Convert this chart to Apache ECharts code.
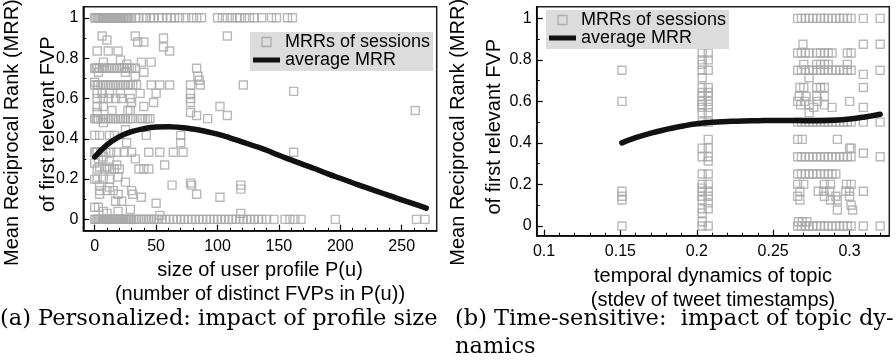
<!DOCTYPE html>
<html><head><meta charset="utf-8">
<script src="https://cdn.jsdelivr.net/npm/echarts@6/dist/echarts.min.js"></script>
<style>html,body{margin:0;padding:0;background:#fff}#c{width:896px;height:363px}</style>
</head><body><div id="c"></div>
<script>
// ---- tick labels ----
const xTicksA = [0, 50, 100, 150, 200, 250];
const xTicksB = [0.1, 0.15, 0.2, 0.25, 0.3];
const yTicks = [0, 0.2, 0.4, 0.6, 0.8, 1];

// ---- average MRR curves ----
const avgA = [[0,0.31],[10,0.37],[20,0.41],[30,0.435],[40,0.45],[50,0.458],[60,0.46],[70,0.456],[80,0.448],[90,0.437],[100,0.423],[110,0.405],[120,0.385],[130,0.364],[140,0.343],[150,0.318],[160,0.295],[170,0.272],[180,0.25],[190,0.226],[200,0.204],[210,0.182],[220,0.16],[230,0.139],[240,0.118],[250,0.097],[260,0.077],[270,0.056]];
const avgB = [[0.151,0.40],[0.16,0.425],[0.17,0.447],[0.18,0.465],[0.19,0.48],[0.2,0.492],[0.21,0.499],[0.22,0.503],[0.23,0.506],[0.24,0.507],[0.25,0.508],[0.26,0.508],[0.27,0.507],[0.28,0.507],[0.29,0.509],[0.3,0.515],[0.31,0.525],[0.32,0.538]];

// ---- MRRs of sessions: rows of [MRR, [x values]] ----
const sessionsA = [
 [1, [0,1,2,3,4,5,6,7,8,9,10,11,12,13,14,15,16,17,18,19,20,21,22,23,24,25,26,27,28,30,33,36,40,42,45,48,52,55,59,62,65,69,74,79,83,87,100,104,108,112,116,118,122,126,130,136,144,148,157,161]],
 [0.91,[6,33,108]],[0.89,[10]],[0.88,[35,40]],[0.9,[56]],[0.855,[56]],[0.835,[2,11,19,61]],
 [0.79,[21]],[0.78,[7,38,46]],[0.77,[26]],
 [0.75,[0,1,2,4,6,8,10,12,14,16,18,20,22,24,26,28,30,33,83]],
 [0.73,[3,25,40]],[0.71,[33,84]],[0.69,[85]],[0.68,[0]],
 [0.667,[0,2,3,5,7,9,11,13,15,17,19,21,23,25,27,29,31,34,46,53,61,78,86,121]],
 [0.635,[162]],
 [0.625,[2,6,12,21,37,50,78]],
 [0.6,[2,7,11,17,22,29,78]],[0.58,[30,48,78]],
 [0.56,[2,7,40,102]],[0.54,[14,27,29,261]],[0.53,[2,78]],[0.515,[83,108]],
 [0.5,[0,1,2,3,5,7,9,11,13,15,17,19,21,23,25,27,29,31,37,39,41,43,45,92]],
 [0.48,[7]],[0.445,[25]],
 [0.417,[0,4,12,16,42,70]],[0.38,[26,70]],
 [0.333,[0,1,2,5,9,13,18,24,30,44,53,64,72,162]],
 [0.31,[7]],[0.3,[3,33]],[0.29,[12]],[0.28,[0]],[0.27,[18,57]],[0.26,[4,10]],[0.25,[2,8,12,16,20,36,40,44]],
 [0.21,[19]],[0.2,[0,2,7,12]],[0.185,[25]],[0.18,[78]],[0.17,[4,63,79,119]],[0.16,[12]],[0.15,[119]],
 [0.143,[4,10,15,30]],[0.125,[4,19,31,83]],[0.11,[38,102]],[0.09,[17,22]],[0.08,[50]],
 [0.06,[0,3]],[0.05,[29]],[0.04,[7,19]],[0.03,[10,119]],[0.02,[53]],
 [0, [0,1,2,3,4,5,6,7,8,9,10,11,12,13,14,15,16,17,18,19,20,21,22,23,24,25,26,27,28,29,30,32,34,36,38,40,42,44,46,48,50,52,55,58,61,64,67,70,73,76,79,82,85,88,91,94,97,100,103,106,109,112,115,118,121,124,127,130,133,136,140,146,155,159,163,168,196,262,269]]
];
const sessionsB = [
 [1, [0.266,0.2685,0.271,0.2735,0.276,0.2785,0.281,0.2835,0.286,0.2885,0.291,0.2935,0.296,0.2985,0.301,0.309,0.32]],
 [0.875,[0.2695,0.309,0.32]],
 [0.833,[0.2035,0.2075,0.266,0.2685,0.271,0.2735,0.2785,0.281,0.2835,0.286,0.2885,0.2985,0.301]],
 [0.8,[0.2035,0.2075]],
 [0.778,[0.2035,0.27,0.2785,0.281,0.2835,0.286,0.2985]],
 [0.75,[0.151,0.2035,0.2075,0.266,0.2685,0.271,0.2735,0.276,0.2785,0.281,0.2835,0.286,0.2885,0.291,0.2935,0.296,0.2985,0.301,0.32]],
 [0.73,[0.309]],[0.714,[0.2035,0.2735]],
 [0.667,[0.2035,0.2075,0.2675,0.27,0.2785,0.281,0.2835,0.309]],
 [0.643,[0.2035,0.2075]],
 [0.625,[0.2035,0.2075,0.267,0.2715,0.2785,0.2835]],
 [0.6,[0.151,0.2035,0.2075,0.266,0.2705,0.279,0.3]],
 [0.583,[0.2035,0.268,0.2735,0.2835]],
 [0.571,[0.2035,0.2075,0.2765,0.2885,0.309]],
 [0.545,[0.2035,0.2075,0.2735]],
 [0.5,[0.2035,0.2075,0.266,0.2685,0.271,0.2735,0.276,0.2785,0.281,0.2835,0.286,0.2885,0.291,0.2935,0.296,0.2985,0.301,0.309,0.32]],
 [0.417,[0.2075,0.266,0.269,0.292]],
 [0.375,[0.2035,0.2075,0.3,0.301]],
 [0.35,[0.309]],
 [0.333,[0.2035,0.2075,0.266,0.2685,0.271,0.2735,0.276,0.2785,0.281,0.2835,0.286,0.2885,0.291,0.2935,0.296,0.2985,0.301,0.32]],
 [0.313,[0.2075]],
 [0.25,[0.2035,0.2075,0.266,0.2685,0.271,0.2735,0.276,0.2785,0.281,0.2835,0.286,0.2885,0.291]],
 [0.2,[0.2035,0.2075,0.266,0.27,0.2835,0.2875,0.298,0.301]],
 [0.182,[0.2035]],
 [0.167,[0.151,0.2035,0.2075,0.2675,0.2795,0.283,0.287,0.2975,0.3,0.309]],
 [0.143,[0.151,0.2035,0.2075,0.266,0.2835,0.291,0.3]],
 [0.125,[0.151,0.2035,0.2675,0.2875,0.292]],
 [0.111,[0.2075]],[0.1,[0.301]],
 [0.083,[0.2035,0.2075]],[0.077,[0.292,0.302]],[0.062,[0.2035]],
 [0.02,[0.2035,0.2665,0.269,0.272]],
 [0,[0.151,0.2035,0.2075,0.266,0.2685,0.271,0.2735,0.276,0.2785,0.281,0.2835,0.286,0.2885,0.291,0.2935,0.296,0.2985,0.301,0.309,0.32]]
];

function flatten(rows){ const out=[]; rows.forEach(r=>r[1].forEach(x=>out.push([x,r[0]]))); return out; }
function steps(a,b,s){ const o=[]; for(let i=0;a+i*s<=b+1e-9;i++) o.push(+(a+i*s).toFixed(4)); return o; }

const FONT = 'Liberation Sans, Arial, Helvetica, sans-serif';
const SERIF = 'DejaVu Serif, serif';
const fmt = v => String(+v.toFixed(2));
const NBSP = '\u00a0';

const minorXA = steps(0,270,10), minorY = steps(0,1,0.1), minorXB = steps(0.1,0.32,0.01);

function xMajor(g,min,max,ticks,name,gap){
  return {gridIndex:g,type:'value',position:'bottom',min:min,max:max,
    axisLine:{show:true,onZero:false,lineStyle:{color:'#000',width:1.5}},
    splitLine:{show:false},
    axisTick:{show:true,inside:true,length:6,customValues:ticks,lineStyle:{color:'#000',width:1.2}},
    axisLabel:{customValues:ticks,formatter:fmt,fontSize:16,color:'#000',fontFamily:FONT,margin:8},
    name:name,nameLocation:'middle',nameGap:gap,nameMoveOverlap:false,
    nameTextStyle:{fontSize:20,lineHeight:24,color:'#000',fontFamily:FONT}};
}
function minorAx(g,pos,min,max,ticks){
  return {gridIndex:g,type:'value',position:pos,min:min,max:max,
    axisLine:{show:false,onZero:false},splitLine:{show:false},axisLabel:{show:false},
    axisTick:{show:true,inside:true,length:3,customValues:ticks,lineStyle:{color:'#000',width:1}}};
}
// trailing no-break spaces push the rotated, centred name downwards
function yName(ax,text,gap,pad){
  return Object.assign(ax,{name:text+NBSP.repeat(pad),nameLocation:'middle',nameRotate:90,nameGap:gap,nameMoveOverlap:false,
    nameTextStyle:{fontSize:20,lineHeight:24,color:'#000',fontFamily:FONT}});
}
function yMajor(g,min,max){
  return {gridIndex:g,type:'value',position:'left',min:min,max:max,
    axisLine:{show:true,onZero:false,lineStyle:{color:'#000',width:1.5}},
    splitLine:{show:false},
    axisTick:{show:true,inside:true,length:6,customValues:yTicks,lineStyle:{color:'#000',width:1.2}},
    axisLabel:{customValues:yTicks,formatter:fmt,fontSize:16,color:'#000',fontFamily:FONT,margin:5}};
}
function legendAt(left,top){
  return {left:left,top:top,orient:'vertical',backgroundColor:'#dcdcdc',padding:[1,3,2,3],itemGap:0,
    itemWidth:27,itemHeight:9,textStyle:{fontSize:18,lineHeight:18,color:'#000',fontFamily:FONT},
    data:[
      {name:'MRRs of sessions',icon:'path://M0,0L10,0L10,10L0,10Z',itemStyle:{color:'rgba(0,0,0,0)',borderColor:'#a0a0a0',borderWidth:1.3}},
      {name:'average MRR',icon:'path://M0,0L27,0L27,5L0,5Z',itemStyle:{color:'#111',borderWidth:0}}
    ]};
}
const scatterStyle = {color:'rgba(0,0,0,0)',borderColor:'#a8a8a8',borderWidth:1.4};
const capStyle = {fontFamily:SERIF,fontSize:22.5,fontWeight:'normal',color:'#000',lineHeight:28};
const NAME1 = 'Mean Reciprocal Rank (MRR)', NAME2 = 'of first relevant FVP';

const option = {
  animation:false,
  title:[
    {text:'(a) Personalized: impact of profile size',left:0,top:305,textStyle:capStyle,padding:0},
    {text:'(b) Time-sensitive:  impact of topic dy-\nnamics',left:455,top:305,textStyle:capStyle,padding:0}
  ],
  legend:[legendAt(250,32),legendAt(546,10)],
  grid:[
    {left:83.3,top:6.7,width:353.4,height:224,outerBoundsMode:'none',containLabel:false,show:true,borderColor:'#222',borderWidth:1.5,backgroundColor:'transparent'},
    {left:536.7,top:6.7,width:352.6,height:229,outerBoundsMode:'none',containLabel:false,show:true,borderColor:'#222',borderWidth:1.5,backgroundColor:'transparent'}
  ],
  xAxis:[
    xMajor(0,-9.3,278.5,xTicksA,'size of user profile P(u)\n(number of distinct FVPs in P(u))',28),
    minorAx(0,'bottom',-9.3,278.5,minorXA),
    xMajor(1,0.0952,0.326,xTicksB,'temporal dynamics of topic\n(stdev of tweet timestamps)',28.5),
    minorAx(1,'bottom',0.0952,0.326,minorXB)
  ],
  yAxis:[
    yName(yMajor(0,-0.056,1.055),NAME2,23.3,2),
    yName(minorAx(0,'left',-0.056,1.055,minorY),NAME1,58.8,5),
    yName(yMajor(1,-0.047,1.056),NAME2,30.7,2),
    yName(minorAx(1,'left',-0.047,1.056,minorY),NAME1,66.7,4)
  ],
  series:[
    {name:'MRRs of sessions',type:'scatter',xAxisIndex:0,yAxisIndex:0,data:flatten(sessionsA),symbol:'rect',symbolSize:8,itemStyle:scatterStyle,z:2},
    {name:'average MRR',type:'line',xAxisIndex:0,yAxisIndex:0,data:avgA,smooth:true,symbol:'none',lineStyle:{color:'#111',width:5.5,cap:'round'},z:3},
    {name:'MRRs of sessions',type:'scatter',xAxisIndex:2,yAxisIndex:2,data:flatten(sessionsB),symbol:'rect',symbolSize:8,itemStyle:scatterStyle,z:2},
    {name:'average MRR',type:'line',xAxisIndex:2,yAxisIndex:2,data:avgB,smooth:true,symbol:'none',lineStyle:{color:'#111',width:5.5,cap:'round'},z:3}
  ]
};
const chart = echarts.init(document.getElementById('c'),null,{renderer:'canvas'});
chart.setOption(option);
</script></body></html>
